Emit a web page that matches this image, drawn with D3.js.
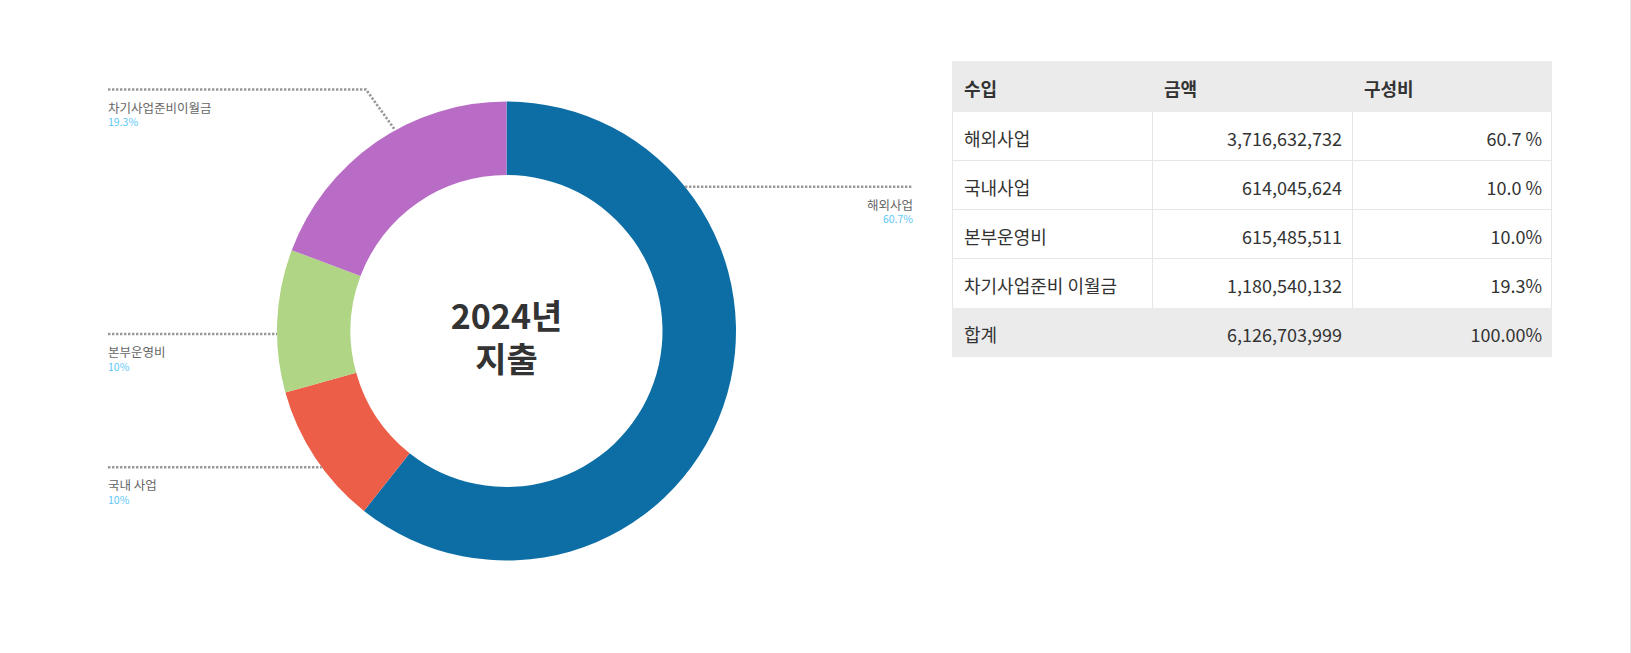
<!DOCTYPE html>
<html><head><meta charset="utf-8">
<script src="https://cdn.jsdelivr.net/npm/d3@7"></script>
<style>
html,body{margin:0;padding:0;background:#fff;overflow:hidden}
svg{display:block;font-family:"Noto Sans CJK KR","Noto Sans",sans-serif}
</style></head>
<body>
<svg id="c" width="1631" height="653"></svg>
<script>
// ---- data ----
const categories = ["해외사업", "국내 사업", "본부운영비", "차기사업준비이월금"];
const amounts = [3716632732, 614045624, 615485511, 1180540132];
const sliceColors = ["#0d6ea6", "#ec5e47", "#b0d585", "#b86cc6"];
const pieLabels = ["60.7%", "10%", "10%", "19.3%"];
const centerTitle = ["2024년", "지출"];

const tableHeader = ["수입", "금액", "구성비"];
const tableRows = ["해외사업", "국내사업", "본부운영비", "차기사업준비 이월금"];
const tableAmounts = [3716632732, 614045624, 615485511, 1180540132];
const tablePct = ["60.7 %", "10.0 %", "10.0%", "19.3%"];
const totalLabel = "합계";
const totalAmount = 6126703999;
const totalPct = "100.00%";

// ---- layout ----
const svg = d3.select("#c");
const cx = 506.5, cy = 331, R = 229.5, r = 156;

const pie = d3.pie().sort(null).value(d => d)(amounts);
const arc = d3.arc().innerRadius(r).outerRadius(R);
const g = svg.append("g").attr("transform", `translate(${cx},${cy})`);
g.selectAll("path").data(pie).join("path")
  .attr("d", arc).attr("fill", (d, i) => sliceColors[i]);

g.selectAll("text.center").data(centerTitle).join("text")
  .attr("class", "center")
  .attr("x", 0).attr("y", (d, i) => i === 0 ? -17 : 26)
  .attr("text-anchor", "middle").attr("dominant-baseline", "central")
  .attr("font-size", 34).attr("font-weight", 700).attr("fill", "#333")
  .text(d => d);

// leader line layouts (index into categories)
const leaders = [
  {i: 0, side: "right", y: 186.7, x0: null, x1: 913},
  {i: 1, side: "left", y: 467.3, x0: 108, x1: null},
  {i: 2, side: "left", y: 334, x0: 108, x1: null},
  {i: 3, side: "left", y: 89.5, x0: 108, x1: 366, knee: true, endAngle: 331}
];
const lg = svg.append("g");
leaders.forEach(L => {
  let pts;
  if (L.knee) {
    const a = L.endAngle * Math.PI / 180;
    const ex = cx + R * Math.sin(a), ey = cy - R * Math.cos(a);
    pts = [[L.x0, L.y], [L.x1, L.y], [ex, ey]];
  } else {
    const dx = Math.sqrt(R * R - (L.y - cy) * (L.y - cy));
    if (L.side === "right") pts = [[cx + dx, L.y], [L.x1, L.y]];
    else pts = [[L.x0, L.y], [cx - dx, L.y]];
  }
  lg.append("path").attr("d", d3.line()(pts))
    .attr("fill", "none").attr("stroke", "#999")
    .attr("stroke-width", 2.6).attr("stroke-dasharray", "2.4,1.6");
  const tx = L.side === "right" ? L.x1 : L.x0;
  const anchor = L.side === "right" ? "end" : "start";
  lg.append("text").attr("x", tx).attr("y", L.y + 17.5)
    .attr("text-anchor", anchor).attr("dominant-baseline", "central")
    .attr("font-size", 12.5).attr("fill", "#666").text(categories[L.i]);
  lg.append("text").attr("x", tx).attr("y", L.y + 32)
    .attr("text-anchor", anchor).attr("dominant-baseline", "central")
    .attr("font-size", 10.5).attr("fill", "#5cc8f7").text(pieLabels[L.i]);
});

// ---- table ----
const fmt = d3.format(",");
const tx0 = 952, colW = 200, ty0 = 61, headH = 51, rowH = 49;
const tg = svg.append("g");
const textColor = "#333";
tg.append("rect").attr("x", tx0).attr("y", ty0).attr("width", colW * 3).attr("height", headH).attr("fill", "#ebebeb");
tableHeader.forEach((h, j) => {
  tg.append("text").attr("x", tx0 + j * colW + 12).attr("y", ty0 + headH / 2 + 1)
    .attr("dominant-baseline", "central").attr("font-size", 18).attr("font-weight", 700)
    .attr("fill", textColor).text(h);
});
const bodyTop = ty0 + headH;
const allRows = tableRows.map((t, k) => [t, fmt(tableAmounts[k]), tablePct[k]]);
allRows.push([totalLabel, fmt(totalAmount), totalPct]);
const nBody = tableRows.length;
// body grid lines
const bodyBottom = bodyTop + nBody * rowH;
for (let k = 1; k < nBody; k++) {
  tg.append("line").attr("x1", tx0).attr("x2", tx0 + 3 * colW)
    .attr("y1", bodyTop + k * rowH - 0.5).attr("y2", bodyTop + k * rowH - 0.5)
    .attr("stroke", "#e6e6e6");
}
for (let j = 0; j <= 3; j++) {
  const x = j === 3 ? tx0 + 3 * colW - 0.5 : tx0 + j * colW + 0.5;
  tg.append("line").attr("x1", x).attr("x2", x).attr("y1", bodyTop).attr("y2", bodyBottom)
    .attr("stroke", "#e6e6e6");
}
allRows.forEach((row, k) => {
  const y = bodyTop + k * rowH;
  const isTotal = k === allRows.length - 1;
  if (isTotal) {
    tg.append("rect").attr("x", tx0).attr("y", y).attr("width", colW * 3).attr("height", rowH).attr("fill", "#ebebeb");
  }
  row.forEach((v, j) => {
    const right = j > 0;
    tg.append("text")
      .attr("x", right ? tx0 + (j + 1) * colW - 10 : tx0 + 12)
      .attr("y", y + rowH / 2 + 1)
      .attr("text-anchor", right ? "end" : "start")
      .attr("dominant-baseline", "central").attr("font-size", 18)
      .attr("fill", textColor).text(v);
  });
});

// right edge line
svg.append("line").attr("x1", 1630.5).attr("x2", 1630.5).attr("y1", 0).attr("y2", 653)
  .attr("stroke", "#e6e6e6");
</script>
</body></html>
